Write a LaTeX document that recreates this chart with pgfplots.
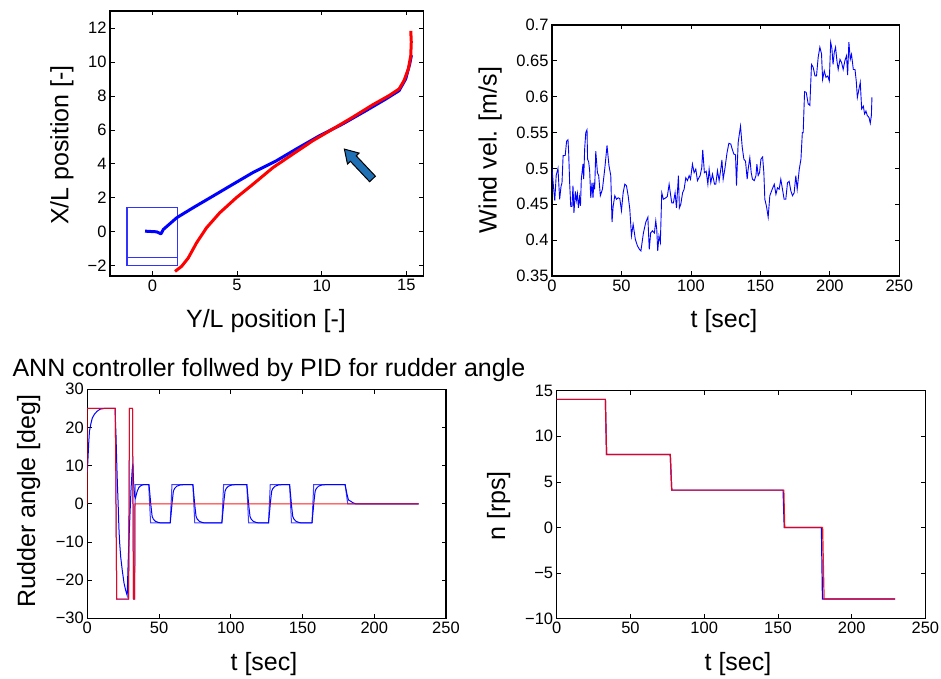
\documentclass[border=0pt]{standalone}
\usepackage{fontspec}
\setmainfont{Liberation Sans}
\usepackage{pgfplots}
\pgfplotsset{compat=1.18}
\usepackage{pgfplotstable}

\definecolor{arrowblue}{RGB}{31,112,180}
\definecolor{pureblue}{RGB}{0,0,255}
\definecolor{boxblue}{RGB}{50,50,255}
\newcommand\labfont{\fontsize{25}{30}\selectfont}

\pgfplotsset{
  panel/.style={
    scale only axis,
    anchor=south west,
    axis line style={line width=1.2pt},
    tick style={line width=0.8pt, black},
    tick align=inside,
    major tick length=4.5pt,
    tick label style={font=\fontsize{16.5}{18}\selectfont},
    /pgf/number format/assume math mode=true,
  },
}

% wind velocity record
\pgfplotstableread{
t v
0 0.50
1 0.476
2 0.455
3 0.49
4.3 0.50
5.5 0.457
6.5 0.475
7.2 0.48
8 0.518
9.5 0.518
10.5 0.538
11.5 0.54
12 0.522
12.7 0.48
13.5 0.447
14.4 0.447
15.1 0.476
15.8 0.438
16.8 0.468
17.5 0.455
18.3 0.465
19 0.445
19.8 0.46
20.5 0.448
21.1 0.485
22.3 0.506
22.8 0.485
23.5 0.527
24.3 0.55
25.2 0.554
25.6 0.513
26.4 0.509
27.1 0.497
27.9 0.459
28.8 0.48
29.5 0.459
30.1 0.48
30.7 0.471
31.5 0.524
32.7 0.494
33.6 0.49
34.8 0.462
36.3 0.471
38 0.5
39.6 0.532
41 0.504
42.3 0.49
43.2 0.425
44 0.447
45.2 0.462
46.4 0.457
47.6 0.459
48.8 0.458
50 0.441
51.2 0.466
52.4 0.478
53.6 0.476
54.8 0.462
56 0.443
57.2 0.406
58.4 0.422
60 0.401
61.5 0.392
63 0.387
64 0.385
65.8 0.41
67.5 0.425
69 0.432
70 0.387
71 0.41
72.3 0.413
73.7 0.41
74.7 0.427
75.4 0.415
76.1 0.385
77 0.406
78 0.397
79 0.466
80.2 0.457
81.9 0.459
83 0.461
84.3 0.478
85.3 0.464
86.2 0.452
87.4 0.452
88.6 0.466
89.6 0.445
91 0.49
91.7 0.445
92.7 0.45
94 0.466
95.1 0.471
96.3 0.487
97.5 0.483
98.7 0.49
99.7 0.485
101.1 0.506
102.3 0.494
103.5 0.499
104.7 0.483
106.6 0.49
107.8 0.501
108.5 0.526
109.7 0.494
111 0.496
112.2 0.478
113.1 0.499
114.3 0.48
115.5 0.492
117 0.478
117.9 0.478
119.1 0.497
120.3 0.483
121.5 0.499
122.3 0.512
123.2 0.485
124.4 0.499
126 0.522
127.3 0.535
128.7 0.534
129.7 0.527
130.9 0.52
132.1 0.519
132.8 0.476
134 0.536
135 0.55
135.7 0.559
136.9 0.53
138.1 0.513
139.3 0.51
140.5 0.485
141.2 0.499
142.4 0.515
143.4 0.494
144.3 0.485
145.6 0.483
146.8 0.49
147.5 0.506
148.4 0.49
149.4 0.494
150.4 0.513
151.6 0.516
152.5 0.494
153.2 0.457
154.4 0.447
155.6 0.432
156.8 0.462
158.5 0.471
160 0.478
161.2 0.464
162.3 0.473
163.5 0.471
164.7 0.485
165.9 0.471
167.1 0.457
168.3 0.457
169.5 0.48
170.7 0.482
171.9 0.469
173.1 0.462
174.3 0.466
175.5 0.49
176.5 0.471
178 0.499
179.2 0.513
180.2 0.55
180.8 0.55
181.8 0.607
183 0.606
184.4 0.59
185.6 0.588
186.8 0.645
188 0.641
189.3 0.629
190.4 0.629
191.6 0.655
192.8 0.669
194 0.66
194.8 0.624
196 0.636
197.2 0.627
198.5 0.629
199.6 0.622
200.6 0.676
201.5 0.667
202.3 0.645
203.2 0.662
204.1 0.669
205.1 0.65
206 0.638
207.3 0.652
208.4 0.648
209.6 0.638
210.8 0.65
212 0.657
212.8 0.63
213.7 0.676
214.7 0.652
215.6 0.659
216.9 0.638
218.1 0.638
219 0.622
219.8 0.599
220.7 0.608
221.9 0.62
222.9 0.583
224.1 0.587
225 0.576
226 0.58
226.9 0.574
228.2 0.571
229.1 0.563
229.9 0.574
230.3 0.599
}\windtable

\begin{document}
\begin{tikzpicture}
\useasboundingbox (0pt,0pt) rectangle (941pt,678pt);

% ---------------- trajectory ----------------
\begin{axis}[panel, at={(110pt,402pt)}, width=313.3pt, height=265pt,
  xmin=-2.5, xmax=16, ymin=-2.6, ymax=13,
  xtick={0,5,10,15}, ytick={-2,0,2,4,6,8,10,12},
  yticklabels={−2,0,2,4,6,8,10,12}]
  % start area
  \addplot[draw=boxblue, mark=none, line width=1.2pt] coordinates {(-1.5,-2) (1.5,-2) (1.5,1.45) (-1.5,1.45) (-1.5,-2)};
  \addplot[draw=boxblue, mark=none, line width=1.2pt] coordinates {(-1.5,-1.5) (1.5,-1.5)};
  \addplot[draw=pureblue, mark=none, line width=3pt, line join=round] coordinates {
    (-0.43,0.04) (0.26,0) (0.51,-0.12) (0.65,0.14) (1.44,0.83) (2.41,1.42)
    (3.59,2.11) (4.76,2.8) (5.94,3.49) (7.32,4.18) (8.49,4.87) (9.86,5.65)
    (11.24,6.35) (12.61,7.13) (13.79,7.82) (14.57,8.31) (14.96,9.0)
    (15.2,9.89) (15.3,10.4)};
  \addplot[draw=red, mark=none, line width=3pt, line join=round] coordinates {
    (1.34,-2.33) (1.73,-2.03) (2.12,-1.54) (2.61,-0.65) (3.2,0.24) (3.98,1.12)
    (4.96,2.01) (5.94,2.8) (7.12,3.78) (8.29,4.57) (9.47,5.36) (10.65,6.05)
    (11.82,6.74) (13.0,7.47) (13.98,8.02) (14.57,8.41) (14.86,8.9)
    (15.12,9.6) (15.26,10.38) (15.29,11.18) (15.26,11.83)};
  \draw[fill=arrowblue, line width=1pt, line join=miter,
        shift={(axis cs:11.34,4.87)}, rotate=133.3]
    (0pt,0pt) -- (-13pt,8pt) -- (-13pt,4pt) -- (-41pt,4pt) -- (-41pt,-4pt)
    -- (-13pt,-4pt) -- (-13pt,-8pt) -- cycle;
\end{axis}

% ---------------- wind ----------------
\begin{axis}[panel, at={(552pt,402pt)}, width=347.3pt, height=251pt,
  xmin=0, xmax=250, ymin=0.35, ymax=0.7,
  xtick={0,50,100,150,200,250},
  ytick={0.35,0.4,0.45,0.5,0.55,0.6,0.65,0.7},
  yticklabels={0.35,0.4,0.45,0.5,0.55,0.6,0.65,0.7}]
  \addplot[draw=pureblue, mark=none, line width=0.9pt] table[x=t, y=v] {\windtable};
\end{axis}

% ---------------- rudder angle ----------------
\begin{axis}[panel, at={(87.3pt,59.7pt)}, width=358.7pt, height=229pt,
  xmin=0, xmax=250, ymin=-30, ymax=30,
  xtick={0,50,100,150,200,250},
  ytick={-30,-20,-10,0,10,20,30},
  yticklabels={−30,−20,−10,0,10,20,30}]
  % commanded (switching) rudder
  \addplot[draw=pureblue!75!white, mark=none, line width=1pt] coordinates {
    (0,25) (19.5,25) (20.5,-25) (28.8,-25) (29.4,25) (31.5,25) (32.2,-25)
    (33,-25) (33.3,5) (42.8,5) (44.1,-5) (57.8,-5) (59,5) (73.6,5) (74.9,-5)
    (93.8,-5) (95,5) (111.2,5) (112.4,-5) (126.3,-5) (127.5,5) (141,5)
    (142.3,-5) (156.6,-5) (157.8,5) (179.7,5) (181.5,0) (231,0)};
  % actual rudder
  \addplot[draw=pureblue, mark=none, line width=1pt] coordinates {
    (0,8.3) (0.5,12) (1,16) (1.5,19) (2.5,21) (3.5,22.5) (5,23.5) (7,24.3)
    (9,24.8) (12,25) (19.3,25) (20,18) (20.5,11) (21,5) (21.5,0) (22,-6)
    (22.5,-10) (23.3,-14) (24.4,-17.5) (25.6,-20.8) (26.7,-22.6) (27.4,-23.5)
    (27.8,-24) (28.5,-15) (29.5,-5) (30.5,4) (31.3,9) (31.8,10.5) (32.2,6)
    (33,2) (33.6,1.5) (34.2,2.5) (35,3.5) (36,4.3) (37.5,4.8) (39,5) (43,5)
    (44.5,-1) (45.2,-3.3) (46,-4) (47.5,-4.6) (50,-4.95) (52,-5)
    (57.8,-5) (59.3,1) (60,3.3) (60.8,4) (62.3,4.6) (64.8,4.95) (66.8,5)
    (73.6,5) (75.1,-1) (75.8,-3.3) (76.6,-4) (78.1,-4.6) (80.6,-4.95) (82.6,-5)
    (93.8,-5) (95.3,1) (96,3.3) (96.8,4) (98.3,4.6) (100.8,4.95) (102.8,5)
    (111.2,5) (112.7,-1) (113.4,-3.3) (114.2,-4) (115.7,-4.6) (118.2,-4.95) (120.2,-5)
    (126.3,-5) (127.8,1) (128.5,3.3) (129.3,4) (130.8,4.6) (133.3,4.95) (135.3,5)
    (141,5) (142.5,-1) (143.2,-3.3) (144,-4) (145.5,-4.6) (148,-4.95) (150,-5)
    (156.6,-5) (158.1,1) (158.8,3.3) (159.6,4) (161.1,4.6) (163.6,4.95) (165.6,5)
    (179.7,5) (181,2.5) (182,1) (183.5,0.7) (185,0.3) (187,0) (231,0)};
  % ANN command
  \addplot[draw=red, mark=none, line width=1pt, opacity=0.9] coordinates {
    (0,0) (0,25) (19.5,25) (20.5,-25) (28.8,-25) (29.4,25) (31.5,25)
    (32.2,-25) (33,-25) (33.2,0) (231,0)};
\end{axis}

% ---------------- propeller revolution ----------------
\begin{axis}[panel, at={(556.7pt,59.3pt)}, width=368.7pt, height=228pt,
  xmin=0, xmax=250, ymin=-10, ymax=15,
  xtick={0,50,100,150,200,250},
  ytick={-10,-5,0,5,10,15},
  yticklabels={−10,−5,0,5,10,15}]
  \addplot[draw=pureblue, mark=none, line width=1.2pt] coordinates {
    (0,14.05) (33,14.05) (33.8,8) (77,8) (78,4.1) (153.5,4.1) (154.3,0)
    (179.5,0) (180.2,-7.85) (229.5,-7.85)};
  \addplot[draw=red, mark=none, line width=1.2pt, opacity=0.9] coordinates {
    (0,14.05) (33,14.05) (33.8,8) (77,8) (78,4.1) (154,4.1) (154.6,0)
    (180.3,0) (181.3,-7.85) (229.5,-7.85)};
\end{axis}

% ---------------- labels ----------------
\node[anchor=base, font=\labfont] at (266pt,350pt) {Y/L position [-]};
\node[anchor=base, rotate=90, font=\labfont] at (68.3pt,533pt) {X/L position [-]};
\node[anchor=base, font=\labfont] at (724pt,350pt) {t [sec]};
\node[anchor=base, rotate=90, font=\labfont] at (496.7pt,528pt) {Wind vel. [m/s]};
\node[anchor=base west, font=\labfont] at (9pt,302pt) {ANN controller follwed by PID for rudder angle};
\node[anchor=base, font=\labfont] at (264pt,8pt) {t [sec]};
\node[anchor=base, rotate=90, font=\labfont] at (35pt,177pt) {Rudder angle [deg]};
\node[anchor=base, font=\labfont] at (738pt,8pt) {t [sec]};
\node[anchor=base, rotate=90, font=\labfont] at (505pt,172pt) {n [rps]};
\end{tikzpicture}
\end{document}
